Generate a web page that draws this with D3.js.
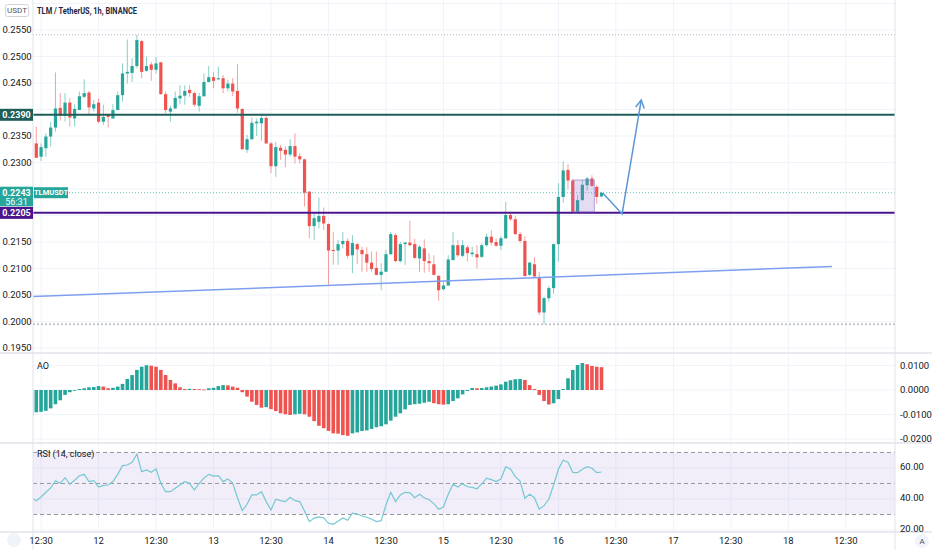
<!DOCTYPE html>
<html><head><meta charset="utf-8">
<script src="https://cdn.jsdelivr.net/npm/d3@7"></script>
<style>
html,body{margin:0;padding:0;background:#fff;overflow:hidden}
svg{display:block;font-family:Roboto,"Liberation Sans",sans-serif}
</style></head><body>
<svg id="c" width="932" height="550"></svg>
<script>
// ---- DATA (hourly candles, TLM/USDT) ----
const candleOpen=[.2356,.2336,.2311,.2327,.2349,.2366,.2403,.2388,.2413,.2383,.2399,.2424,.2432,.2402,.2413,.2377,.2390,.2383,.2399,.2427,
.2468,.2469,.2482,.2529,.2473,.2485,.2475,.2489,.2429,.2396,.2402,.2421,.2426,.2437,.2431,.2407,.2425,.2452,.2461,.2457,
.2459,.2440,.2449,.2435,.2401,.2324,.2344,.2374,.2374,.2384,.2336,.2293,.2328,.2324,.2315,.2331,.2312,.2306,.2245,.2180,
.2188,.2199,.2184,.2135,.2134,.2146,.2152,.2125,.2146,.2135,.2127,.2111,.2101,.2088,.2094,.2127,.2163,.2114,.2146,.2149,
.2146,.2119,.2138,.2114,.2108,.2086,.2061,.2068,.2116,.2144,.2124,.2140,.2127,.2127,.2122,.2144,.2160,.2150,.2143,.2157,
.2201,.2193,.2165,.2152,.2088,.2108,.2083,.2017,.2044,.2063,.2146,.2235,.2286,.2266,.2207,.2229,.2257,.2270,.2254,.2236];
const candleHigh=[.2365,.2368,.2336,.2355,.2377,.2470,.2431,.2431,.2421,.2410,.2434,.2457,.2435,.2418,.2421,.2409,.2392,.2410,.2434,.2487,
.2532,.2497,.2541,.2531,.2500,.2490,.2499,.2490,.2434,.2407,.2434,.2446,.2446,.2446,.2434,.2431,.2468,.2482,.2471,.2481,
.2465,.2456,.2459,.2486,.2402,.2352,.2385,.2383,.2390,.2388,.2339,.2339,.2333,.2331,.2344,.2355,.2318,.2307,.2246,.2204,
.2234,.2215,.2185,.2169,.2154,.2169,.2157,.2163,.2148,.2141,.2140,.2132,.2132,.2110,.2135,.2169,.2167,.2150,.2150,.2190,
.2156,.2144,.2155,.2129,.2125,.2088,.2075,.2125,.2169,.2154,.2154,.2144,.2141,.2144,.2148,.2166,.2172,.2157,.2161,.2226,
.2204,.2199,.2169,.2161,.2113,.2121,.2094,.2047,.2067,.2147,.2261,.2302,.2297,.2269,.2239,.2267,.2273,.2276,.2258,.2245];
const candleLow=[.2333,.2308,.2303,.2311,.2330,.2358,.2379,.2377,.2368,.2368,.2399,.2421,.2390,.2396,.2374,.2371,.2366,.2383,.2399,.2415,
.2449,.2452,.2478,.2459,.2471,.2454,.2468,.2428,.2393,.2377,.2401,.2410,.2409,.2424,.2405,.2396,.2424,.2451,.2440,.2455,
.2431,.2434,.2425,.2394,.2324,.2318,.2342,.2350,.2341,.2335,.2280,.2273,.2305,.2291,.2311,.2298,.2298,.2217,.2157,.2154,
.2176,.2173,.2069,.2107,.2107,.2138,.2119,.2091,.2108,.2094,.2094,.2094,.2087,.2059,.2093,.2126,.2112,.2111,.2107,.2142,
.2118,.2094,.2092,.2094,.2087,.2039,.2059,.2067,.2115,.2122,.2121,.2113,.2122,.2100,.2120,.2141,.2144,.2141,.2135,.2156,
.2190,.2163,.2148,.2084,.2086,.2083,.2012,.1995,.2037,.2052,.2113,.2224,.2249,.2205,.2206,.2228,.2247,.2254,.2222,.2234];
const candleClose=[.2337,.2309,.2329,.2349,.2366,.2402,.2388,.2413,.2385,.2401,.2425,.2431,.2404,.2410,.2377,.2386,.2386,.2399,.2427,.2468,
.2471,.2482,.2531,.2471,.2482,.2475,.2487,.2429,.2399,.2402,.2422,.2426,.2435,.2431,.2409,.2425,.2452,.2461,.2454,.2459,
.2440,.2449,.2434,.2402,.2325,.2344,.2375,.2377,.2384,.2336,.2293,.2329,.2322,.2315,.2331,.2311,.2306,.2243,.2180,.2195,
.2199,.2185,.2134,.2133,.2146,.2152,.2124,.2148,.2136,.2127,.2111,.2099,.2088,.2094,.2127,.2165,.2114,.2146,.2149,.2144,
.2120,.2141,.2114,.2110,.2088,.2059,.2068,.2117,.2144,.2125,.2144,.2129,.2130,.2121,.2144,.2160,.2149,.2143,.2157,.2201,
.2193,.2165,.2152,.2086,.2111,.2085,.2017,.2044,.2063,.2146,.2235,.2285,.2266,.2207,.2229,.2258,.2270,.2256,.2235,.2243];
const aoValues=[-0.0105,-0.0091,-0.0089,-0.0085,-0.0075,-0.0058,-0.0042,-0.0020,-0.0009,-0.0002,
0.0004,0.0007,0.0011,0.0012,0.0016,0.0014,0.0007,0.0009,0.0014,0.0025,
0.0045,0.0061,0.0082,0.0095,0.0101,0.0099,0.0095,0.0082,0.0061,0.0041,
0.0027,0.0011,0.0004,0.0005,0.0004,0.0003,0.0002,0.0007,0.0009,0.0016,
0.0020,0.0019,0.0014,0.0009,-0.0009,-0.0027,-0.0048,-0.0061,-0.0072,-0.0070,
-0.0078,-0.0086,-0.0095,-0.0099,-0.0102,-0.0099,-0.0097,-0.0099,-0.0109,-0.0127,
-0.0146,-0.0156,-0.0167,-0.0177,-0.0178,-0.0184,-0.0187,-0.0177,-0.0173,-0.0167,
-0.0165,-0.0159,-0.0152,-0.0148,-0.0140,-0.0125,-0.0109,-0.0095,-0.0079,-0.0061,
-0.0058,-0.0056,-0.0052,-0.0048,-0.0054,-0.0058,-0.0060,-0.0058,-0.0045,-0.0034,
-0.0018,-0.0004,0.0008,0.0007,0.0008,0.0011,0.0014,0.0018,0.0023,0.0034,
0.0040,0.0044,0.0045,0.0041,0.0020,0.0004,-0.0020,-0.0045,-0.0059,-0.0054,
-0.0037,0.0004,0.0048,0.0082,0.0102,0.0110,0.0105,0.0098,0.0095,0.0093];
const rsiValues=[40.8,38.9,41.3,44.3,47.1,51.8,50.1,53.7,49.5,52.1,
55.0,55.9,51.2,51.8,47.7,48.8,49.0,51.2,55.9,61.5,
61.9,63.7,69.0,57.6,58.7,57.2,59.4,50.1,44.7,44.7,
46.9,49.0,51.2,50.1,45.8,50.1,53.4,55.9,54.8,55.0,
51.2,52.9,50.3,40.8,32.5,36.6,42.6,42.6,44.7,38.3,
32.9,39.8,38.9,38.3,41.1,38.9,38.3,32.3,25.4,27.7,
28.4,27.9,24.3,23.7,25.6,27.7,26.3,30.8,30.3,29.0,
28.2,26.9,25.4,26.0,36.1,44.3,38.3,42.6,44.3,43.9,
40.8,43.0,40.8,39.5,37.0,33.4,34.8,43.0,49.5,47.7,
49.9,47.9,47.5,46.6,49.7,53.4,52.5,51.2,52.9,60.8,
59.4,54.4,51.6,40.5,43.0,40.8,33.4,35.7,39.8,49.0,
59.2,65.0,63.7,57.2,57.0,59.2,60.8,59.8,57.0,57.4];
const priceTicks=[0.2600,0.2550,0.2500,0.2450,0.2400,0.2350,0.2300,0.2250,0.2200,0.2150,0.2100,0.2050,0.2000,0.1950];
const aoTicks=[0.0100,0.0000,-0.0100,-0.0200];
const rsiTicks=[60,40,20];
const timeTickIndex=[2,14,26,38,50,62,74,86,98,110,122,134,146,158,170];
const timeTickLabels=["12:30","12","12:30","13","12:30","14","12:30","15","12:30","16","12:30","17","12:30","18","12:30"];
// drawings (candle index, price)
const resistanceLevel=0.2390, supportLevel=0.2205, currentPrice=0.2243;
const periodHigh=0.2541, periodLow=0.1995;
const trendIdx=[0.3,167.1], trendPrice=[0.2047,0.2104];
const arrowIdx=[119.3,123.3,127.3], arrowPrice=[0.2242,0.2203,0.2418];
const boxIdx=[113.1,117.5], boxPrice=[0.2267,0.2207];

// ---- LAYOUT ----
const plotL=33, plotR=895, mainTop=0, mainBot=353, aoTop=353, aoBot=443, rsiTop=443, rsiBot=532;
const svg=d3.select("#c");
const x=d3.scaleLinear().domain([0.313,180.27]).range([plotL,plotR]);
const yP=d3.scaleLinear().domain([0.19406,0.26066]).range([mainBot,mainTop]);
const yA=d3.scaleLinear().domain([-0.02163,0.0151]).range([aoBot,aoTop]);
const yR=d3.scaleLinear().domain([18.7,76.1]).range([rsiBot,rsiTop]);
const GRID="#f0f3fa", SEP="#e0e3eb", TXT="#131722", UP="#26a69a", DN="#ef5350";

const defs=svg.append("defs");
[["clipMain",mainTop,mainBot],["clipAO",aoTop,aoBot],["clipRSI",rsiTop,rsiBot]].forEach(([id,t,b])=>{
  defs.append("clipPath").attr("id",id).append("rect").attr("x",plotL).attr("y",t).attr("width",plotR-plotL).attr("height",b-t);
});
defs.append("clipPath").attr("id","clipScale").append("rect").attr("x",0).attr("y",0).attr("width",plotL).attr("height",mainBot);

// grid
const grid=svg.append("g");
timeTickIndex.forEach(i=>grid.append("line").attr("x1",x(i)).attr("x2",x(i)).attr("y1",0).attr("y2",rsiBot).attr("stroke",GRID));
priceTicks.forEach(p=>grid.append("line").attr("x1",plotL).attr("x2",plotR).attr("y1",yP(p)).attr("y2",yP(p)).attr("stroke",GRID));
aoTicks.forEach(v=>grid.append("line").attr("x1",plotL).attr("x2",plotR).attr("y1",yA(v)).attr("y2",yA(v)).attr("stroke",GRID));
rsiTicks.forEach(v=>grid.append("line").attr("x1",plotL).attr("x2",plotR).attr("y1",yR(v)).attr("y2",yR(v)).attr("stroke",GRID));

// main pane
const gm=svg.append("g").attr("clip-path","url(#clipMain)");
gm.append("line").attr("x1",plotL).attr("x2",plotR).attr("y1",yP(periodHigh)).attr("y2",yP(periodHigh)).attr("stroke","#b2b5be").attr("stroke-dasharray","1,2");
gm.append("line").attr("x1",plotL).attr("x2",plotR).attr("y1",yP(periodLow)).attr("y2",yP(periodLow)).attr("stroke","#c3c5cc").attr("stroke-width",2).attr("stroke-dasharray","2,2");
gm.append("line").attr("x1",plotL).attr("x2",plotR).attr("y1",yP(currentPrice)).attr("y2",yP(currentPrice)).attr("stroke",UP).attr("stroke-opacity",0.7).attr("stroke-dasharray","1,2");

const candles=d3.range(candleOpen.length).map(i=>({i,o:candleOpen[i],h:candleHigh[i],l:candleLow[i],c:candleClose[i]}));
gm.selectAll("line.wick").data(candles).join("line").attr("class","wick")
  .attr("x1",d=>x(d.i)).attr("x2",d=>x(d.i)).attr("y1",d=>yP(d.h)).attr("y2",d=>yP(d.l))
  .attr("stroke",d=>d.c>=d.o?"rgba(38,166,154,0.55)":"rgba(239,83,80,0.55)").attr("stroke-width",1);
gm.selectAll("rect.body").data(candles).join("rect").attr("class","body")
  .attr("x",d=>x(d.i)-1.6).attr("width",3.2)
  .attr("y",d=>yP(Math.max(d.o,d.c))).attr("height",d=>Math.max(1,Math.abs(yP(d.o)-yP(d.c))))
  .attr("fill",d=>d.c>=d.o?UP:DN);

gm.append("line").attr("x1",x(trendIdx[0])).attr("x2",x(trendIdx[1])).attr("y1",yP(trendPrice[0])).attr("y2",yP(trendPrice[1]))
  .attr("stroke","#7e9ff0").attr("stroke-width",1.5);
gm.append("line").attr("x1",plotL).attr("x2",plotR).attr("y1",yP(resistanceLevel)).attr("y2",yP(resistanceLevel)).attr("stroke","#1e5e58").attr("stroke-width",2);
gm.append("line").attr("x1",plotL).attr("x2",plotR).attr("y1",yP(supportLevel)).attr("y2",yP(supportLevel)).attr("stroke","#4a148c").attr("stroke-width",2);
gm.append("rect").attr("x",x(boxIdx[0])).attr("width",x(boxIdx[1])-x(boxIdx[0]))
  .attr("y",yP(boxPrice[0])).attr("height",yP(boxPrice[1])-yP(boxPrice[0]))
  .attr("fill","rgba(149,117,205,0.25)").attr("stroke","rgba(149,117,205,0.65)");
const arrowPts=arrowIdx.map((v,k)=>[x(v),yP(arrowPrice[k])]);
gm.append("path").attr("d",d3.line()(arrowPts)).attr("fill","none").attr("stroke","#5b95d8").attr("stroke-width",1.5);
{
  const [x1,y1]=arrowPts[1],[x2,y2]=arrowPts[2];
  const a=Math.atan2(y2-y1,x2-x1), L=9;
  const p1=[x2-L*Math.cos(a-0.5),y2-L*Math.sin(a-0.5)], p2=[x2-L*Math.cos(a+0.5),y2-L*Math.sin(a+0.5)];
  gm.append("path").attr("d",d3.line()([p1,[x2,y2],p2])).attr("fill","none").attr("stroke","#5b95d8").attr("stroke-width",1.5);
}

// AO pane
const ga=svg.append("g").attr("clip-path","url(#clipAO)");
ga.selectAll("rect").data(aoValues).join("rect")
  .attr("x",(d,i)=>x(i)-1.8).attr("width",3.6)
  .attr("y",d=>Math.min(yA(d),yA(0))).attr("height",d=>Math.max(0.8,Math.abs(yA(d)-yA(0))))
  .attr("fill",(d,i)=>(i===0||d>=aoValues[i-1])?UP:DN);

// RSI pane
const gr=svg.append("g").attr("clip-path","url(#clipRSI)");
gr.append("rect").attr("x",plotL).attr("width",plotR-plotL).attr("y",yR(70)).attr("height",yR(30)-yR(70)).attr("fill","rgba(126,87,194,0.1)");
[70,50,30].forEach(v=>gr.append("line").attr("x1",plotL).attr("x2",plotR).attr("y1",yR(v)).attr("y2",yR(v)).attr("stroke","#9598a1").attr("stroke-dasharray","4,3"));
gr.append("path").attr("d",d3.line().x((d,i)=>x(i)).y(d=>yR(d))(rsiValues)).attr("fill","none").attr("stroke","#74c8d2").attr("stroke-width",1.2);

// separators
const sep=svg.append("g").attr("stroke",SEP);
[mainBot,aoBot,rsiBot].forEach(y=>sep.append("line").attr("x1",0).attr("x2",932).attr("y1",y).attr("y2",y).attr("stroke-width",1.5));
[plotL,plotR].forEach(xx=>sep.append("line").attr("x1",xx).attr("x2",xx).attr("y1",0).attr("y2",550));

// axis labels (price labels hidden behind the tags are skipped)
const tagPrices=[0.2390,0.2243,0.2205];
const lab=svg.append("g").attr("font-size","9.5px").attr("fill",TXT);
priceTicks.filter(p=>tagPrices.every(t=>Math.abs(yP(p)-yP(t))>11) && yP(p)>8)
  .forEach(p=>lab.append("text").attr("x",17).attr("y",yP(p)).attr("dy","0.35em").attr("text-anchor","middle").text(p.toFixed(4)));
aoTicks.forEach(v=>lab.append("text").attr("x",900).attr("y",yA(v)).attr("dy","0.35em").text(v.toFixed(4)));
rsiTicks.forEach(v=>lab.append("text").attr("x",900).attr("y",yR(v)-1).attr("dy","0.35em").text(v.toFixed(2)));
timeTickIndex.forEach((i,k)=>lab.append("text").attr("x",x(i)).attr("y",541).attr("dy","0.35em").attr("text-anchor","middle").text(timeTickLabels[k]));

// unit box
svg.append("rect").attr("x",5.5).attr("y",4.5).attr("width",23).attr("height",12).attr("rx",2).attr("fill","#fff").attr("stroke","#d1d4dc");
svg.append("text").attr("x",17).attr("y",10.5).attr("dy","0.35em").attr("text-anchor","middle").attr("font-size","8px").attr("fill","#50535e").text("USDT");

// price tags
function tag(price,color,lines){
  const y=yP(price);
  const h=lines.length>1?19.5:12;
  svg.append("rect").attr("x",0).attr("y",y-6).attr("width",33).attr("height",h).attr("fill",color);
  lines.forEach((t,k)=>svg.append("text").attr("x",16.5).attr("y",y+k*9).attr("dy","0.35em").attr("text-anchor","middle")
    .attr("font-size","9px").attr("font-weight",k===0?"bold":"normal").attr("fill","#fff").text(t));
}
tag(resistanceLevel,"#1e5e58",[resistanceLevel.toFixed(4)]);
tag(currentPrice,UP,[currentPrice.toFixed(4),"56:31"]);
tag(supportLevel,"#4a148c",[supportLevel.toFixed(4)]);
svg.append("rect").attr("x",34).attr("y",yP(currentPrice)-5.5).attr("width",34).attr("height",11).attr("fill",UP);
svg.append("text").attr("x",51).attr("y",yP(currentPrice)).attr("dy","0.35em").attr("text-anchor","middle").attr("font-size","7.5px").attr("font-weight","bold").attr("fill","#fff").text("TLMUSDT");

// titles
svg.append("text").attr("x",37).attr("y",11).attr("dy","0.35em").attr("font-size","8.5px").attr("font-weight","bold")
  .attr("textLength",100).attr("lengthAdjust","spacingAndGlyphs").attr("fill","#1e2640").text("TLM / TetherUS, 1h, BINANCE");
svg.append("text").attr("x",37).attr("y",366).attr("dy","0.35em").attr("font-size","9px").attr("fill",TXT).text("AO");
svg.append("text").attr("x",37).attr("y",454).attr("dy","0.35em").attr("font-size","9px").attr("fill",TXT).text("RSI (14, close)");

// buttons
svg.append("circle").attr("cx",922).attr("cy",541).attr("r",7).attr("fill","#f0f3fa");
svg.append("text").attr("x",922).attr("y",541).attr("dy","0.35em").attr("text-anchor","middle").attr("font-size","8px").attr("fill","#50535e").text("A");
svg.append("circle").attr("cx",14).attr("cy",540).attr("r",7).attr("fill","#f0f3fa");
</script></body></html>
